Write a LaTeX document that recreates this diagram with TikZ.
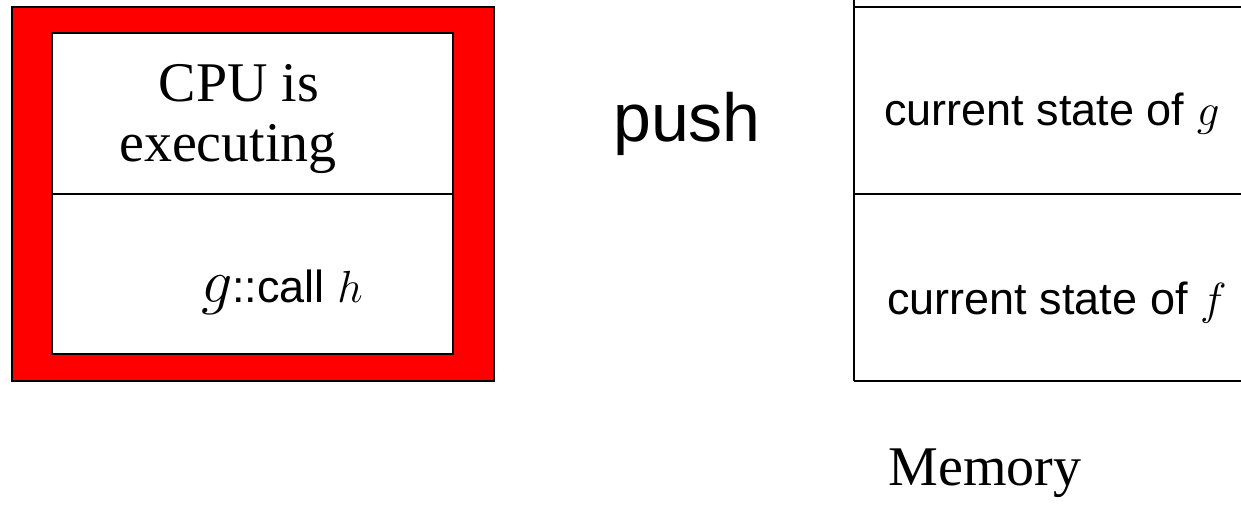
\RequirePackage{fix-cm}
\documentclass[tikz,border=0pt]{standalone}
\usepackage{fontspec}
\setmainfont{Liberation Serif}
\setsansfont{Liberation Sans}
\begin{document}
\begin{tikzpicture}[x=1pt,y=-1pt,line width=1.8pt,
  box/.style={draw=black,rectangle,inner sep=0pt},
  serif/.style={font=\fontsize{56}{64}\selectfont,anchor=base,inner sep=0pt},
  sans/.style={font=\sffamily\fontsize{45}{52}\selectfont,anchor=base,inner sep=0pt}]
\useasboundingbox (0,0) rectangle (1241,513);
\fill[white] (0,0) rectangle (1241,513);

% CPU: red frame around the register panel
\node[box,fill=red,minimum width=482pt,minimum height=374pt] (cpu) at (253,194) {};
\node[box,fill=white,minimum width=401pt,minimum height=321pt] (core) at (252.5,193.5) {};
\draw (52,194) -- (453,194);
\node[serif] (cpuis) at (239,102) {CPU is};
\node[serif] (exec) at (228,162) {executing};
\node[sans] (call) at (282,302) {{\fontsize{62}{70}\selectfont$g$}::call $h$};

% push label
\node[sans,font=\sffamily\fontsize{68}{76}\selectfont] (push) at (687,142) {push};

% Memory stack
\draw (854,-2) -- (854,381);
\draw (854,7) -- (1243,7);
\draw (854,194) -- (1243,194);
\draw (854,381) -- (1243,381);
\node[sans] (stg) at (1052,126) {current state of $g$};
\node[sans] (stf) at (1057,314) {current state of $f$};
\node[serif] (mem) at (985,485) {Memory};
\end{tikzpicture}
\end{document}
